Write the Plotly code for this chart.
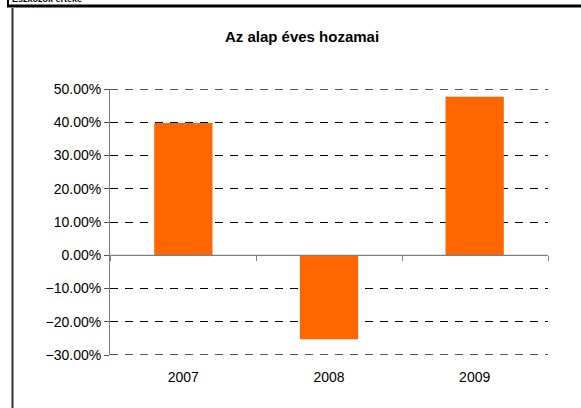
import plotly.graph_objects as go

years = ["2007", "2008", "2009"]
returns = [0.398, -0.253, 0.477]
title_text = "Az alap éves hozamai"
tick_vals = [-0.3, -0.2, -0.1, 0.0, 0.1, 0.2, 0.3, 0.4, 0.5]

fig = go.Figure()
fig.add_trace(go.Bar(x=years, y=returns, marker=dict(color="#FF6600", line=dict(width=0)),
                     width=0.4, xaxis="x", yaxis="y"))
# invisible trace for overlay axis at zero
fig.add_trace(go.Bar(x=years, y=[None]*3, xaxis="x2", yaxis="y", showlegend=False, hoverinfo="skip"))

W, H = 581, 408
L, R, T, B = 110, 33, 89, 53
pw, ph = W - L - R, H - T - B

def px(x):
    return (x - L) / pw

def py(y):
    return (H - B - y) / ph

edge_grid = [
    dict(type="line", xref="paper", yref="y", x0=0, x1=1, y0=v, y1=v,
         line=dict(color="#222222", width=1.3, dash="8px,7px"), layer="below")
    for v in (tick_vals[0], tick_vals[-1])
]

fig.update_layout(
    width=W, height=H,
    margin=dict(l=L, r=R, t=T, b=B),
    paper_bgcolor="white", plot_bgcolor="white",
    showlegend=False,
    font=dict(family="Liberation Sans, Arial, sans-serif", size=14, color="black"),
    title=dict(text="<b>" + title_text + "</b>", x=(302) / W, xanchor="center",
               y=1 - 37 / H, yanchor="middle", font=dict(size=15)),
    bargap=0.6,
    xaxis=dict(showline=False, ticks="", showgrid=False, zeroline=False,
               tickfont=dict(size=14), ticklabelstandoff=12),
    xaxis2=dict(overlaying="x", anchor="free", position=0.3 / 0.8, side="bottom",
                showline=True, linecolor="#808080", linewidth=1,
                ticks="outside", ticklen=5, tickcolor="#808080", tickson="boundaries",
                showticklabels=False, showgrid=False, zeroline=False,
                categoryorder="array", categoryarray=years),
    yaxis=dict(range=[tick_vals[0], tick_vals[-1]], tickvals=tick_vals, tickformat=".2%",
               showline=True, linecolor="#808080", linewidth=1,
               ticks="outside", ticklen=5, tickcolor="#555555",
               showgrid=True, gridcolor="black", griddash="8px,7px", gridwidth=1,
               zeroline=False, tickfont=dict(size=14)),
    shapes=edge_grid + [
        dict(type="line", xref="paper", yref="paper", x0=px(12.5), x1=px(12.5),
             y0=py(8), y1=py(H + 5), line=dict(color="#333333", width=2)),
        dict(type="line", xref="paper", yref="paper", x0=px(7), x1=px(W + 5),
             y0=py(6), y1=py(6), line=dict(color="black", width=3)),
        dict(type="line", xref="paper", yref="paper", x0=px(8), x1=px(8),
             y0=py(-5), y1=py(6), line=dict(color="black", width=2)),
        dict(type="line", xref="x", yref="y", x0=-0.5, x1=2.5, y0=0, y1=0,
             line=dict(color="#808080", width=1), layer="above"),
    ],
    annotations=[
        dict(text="<b>Eszközök értéke</b>", xref="paper", yref="paper",
             x=px(10), y=py(-1), xanchor="left", yanchor="middle",
             showarrow=False, font=dict(size=9, color="black")),
    ],
)

fig.write_html("out.html", config={"displayModeBar": False},
               post_script="document.body.style.margin='0';document.body.style.padding='0';")
